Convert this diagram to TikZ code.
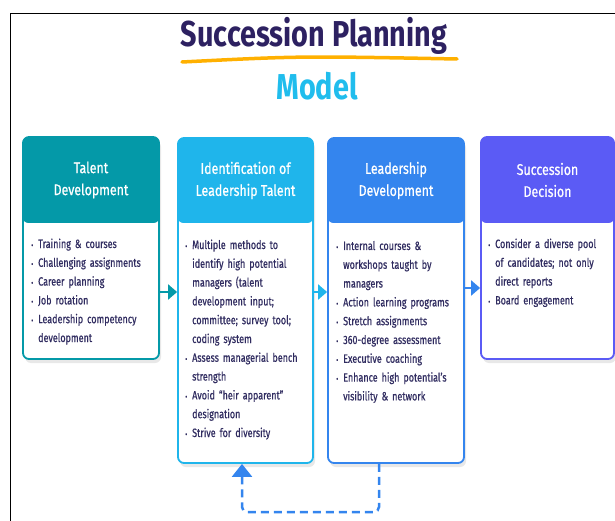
\documentclass[tikz,border=0pt]{standalone}
\usepackage{fontspec}
\setmainfont{Fira Sans}[FakeStretch=0.8]
\newfontfamily\itemfont{Fira Sans}[FakeStretch=0.75, FakeBold=0.6]
\newfontfamily\headfont{Fira Sans}[FakeStretch=0.8, FakeBold=0.6]
\usepackage{enumitem}
\usetikzlibrary{arrows.meta,shadows}

\definecolor{titlePurple}{HTML}{2D2161}
\definecolor{lineOrange}{HTML}{FFB000}
\definecolor{modelCyan}{HTML}{20BDED}
\definecolor{tealBox}{HTML}{0499A8}
\definecolor{cyanBox}{HTML}{1FB5EB}
\definecolor{blueBox}{HTML}{3485EE}
\definecolor{violetBox}{HTML}{5B5BF5}
\definecolor{bodyNavy}{HTML}{302C60}

\setlist[itemize]{leftmargin=10pt, labelsep=5pt, itemsep=0pt, topsep=0pt,
  parsep=0pt, partopsep=0pt, label={\footnotesize\textbullet}}

\tikzset{
  bodybox/.style={rectangle, draw, line width=1.8pt, fill=white, rounded corners=6pt,
    drop shadow={opacity=0.18, shadow xshift=2pt, shadow yshift=-4pt}},
  headbox/.style={rectangle, rounded corners=6pt, text=white, align=center,
    font=\headfont\fontsize{15.5}{22}\selectfont, inner sep=0pt},
  bodytext/.style={anchor=north west, text width=200pt, align=left, inner sep=0pt,
    text=bodyNavy, font=\itemfont\fontsize{12}{18.8}\selectfont},
  flow/.style={line width=2pt, -{Triangle[length=9pt,width=15pt]}}
}

\begin{document}
\begin{tikzpicture}[x=1pt,y=-1pt]

%Frame
\useasboundingbox (0,0) rectangle (615,521);
\draw[line width=1.5pt] (10.5,521) -- (10.5,13.5) -- (615,13.5);

%Title
\node (title) at (314,47) [anchor=base, text=titlePurple, font=\fontsize{36}{36}\selectfont\bfseries]{Succession Planning};
\draw[lineOrange, line width=3.5pt, line cap=round] (182,62) .. controls (300,56) .. (457,59);
\node (model) at (317,100) [anchor=base, text=modelCyan, font=\fontsize{36}{36}\selectfont\bfseries]{Model};

%Boxes
\node (talentBody) at (91,248) [bodybox, draw=tealBox, minimum width=136pt, minimum height=222pt]{};
\node (talentHead) at (91,180) [headbox, fill=tealBox, minimum width=137pt, minimum height=86pt]{Talent\\Development};

\node (identBody) at (245.5,300.5) [bodybox, draw=cyanBox, minimum width=135pt, minimum height=325pt]{};
\node (identHead) at (245.5,180.5) [headbox, fill=cyanBox, minimum width=136pt, minimum height=85pt]{Identification of\\Leadership Talent};

\node (leaderBody) at (396,300.5) [bodybox, draw=blueBox, minimum width=136pt, minimum height=325pt]{};
\node (leaderHead) at (396,180.5) [headbox, fill=blueBox, minimum width=137pt, minimum height=85pt]{Leadership\\Development};

\node (decisionBody) at (547.5,248) [bodybox, draw=violetBox, minimum width=133pt, minimum height=222pt]{};
\node (decisionHead) at (547.5,180) [headbox, fill=violetBox, minimum width=134pt, minimum height=86pt]{Succession\\Decision};

%Texts
\node (talentText) at (28,229) [bodytext]{%
\begin{itemize}
\item Training \& courses
\item Challenging assignments
\item Career planning
\item Job rotation
\item Leadership competency\\development
\end{itemize}};

\node (identText) at (182,230) [bodytext]{%
\begin{itemize}
\item Multiple methods to\\identify high potential\\managers (talent\\development input;\\committee; survey tool;\\coding system
\item Assess managerial bench\\strength
\item Avoid “heir apparent”\\designation
\item Strive for diversity
\end{itemize}};

\node (leaderText) at (333,231) [bodytext]{%
\begin{itemize}
\item Internal courses \&\\workshops taught by\\managers
\item Action learning programs
\item Stretch assignments
\item 360-degree assessment
\item Executive coaching
\item Enhance high potential’s\\visibility \& network
\end{itemize}};

\node (decisionText) at (485,229) [bodytext]{%
\begin{itemize}
\item Consider a diverse pool\\of candidates; not only\\direct reports
\item Board engagement
\end{itemize}};

%Links
\draw[flow, tealBox] (talentBody.east |- 0,292) -- (identBody.west |- 0,292);
\draw[flow, cyanBox] (identBody.east |- 0,292) -- (leaderBody.west |- 0,292);
\draw[flow, blueBox] (leaderBody.east |- 0,288) -- (decisionBody.west |- 0,288);
\draw[blueBox, line width=2.5pt, dash pattern=on 8pt off 5pt, rounded corners=5pt,
  -{Triangle[length=13pt,width=20pt]}]
  (leaderBody.south -| 379,0) -- (379,512) -- (242,512) -- (identBody.south -| 242,0);

\end{tikzpicture}
\end{document}
